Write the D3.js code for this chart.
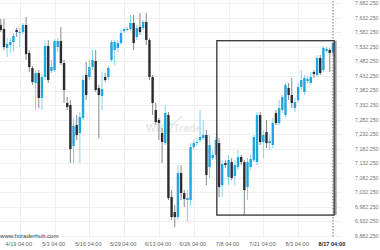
<!DOCTYPE html>
<html><head><meta charset="utf-8">
<script src="https://cdn.jsdelivr.net/npm/d3@7"></script>
<style>html,body{margin:0;padding:0;background:#fff;}svg{display:block;font-family:"Liberation Sans",Arial,sans-serif;}</style>
</head><body><svg id="c" width="380" height="250"></svg>
<script>
const opens=[7607.6,7593.9,7528.5,7538.9,7549.2,7590.4,7580.1,7583.6,7607.6,7511.4,7459.8,7408.2,7442.6,7356.6,7428.8,7535.4,7449.4,7452.9,7532.0,7552.6,7477.0,7339.4,7332.5,7191.5,7263.8,7236.2,7287.8,7435.7,7428.8,7463.2,7483.8,7391.0,7363.5,7428.8,7428.8,7487.3,7521.7,7528.5,7545.7,7587.0,7590.4,7593.9,7614.5,7566.4,7600.7,7597.3,7617.9,7556.0,7428.8,7315.3,7280.9,7236.2,7201.8,7298.1,7016.2,6964.5,6947.4,7098.7,7029.9,7005.8,7005.8,7188.1,7201.8,7212.2,7219.0,7229.4,7119.3,7150.3,7160.6,7201.8,7057.4,7133.1,7084.9,7136.5,7088.4,7119.3,7153.7,7136.5,7050.5,7119.3,7143.4,7136.5,7298.1,7205.3,7239.7,7201.8,7195.0,7305.0,7270.6,7315.3,7298.1,7391.0,7366.9,7322.2,7349.7,7394.4,7377.2,7415.1,7408.2,7446.0,7435.7,7494.1,7452.9,7518.2,7521.7,7514.8];
const highs=[7628.3,7628.3,7562.9,7562.9,7580.1,7597.3,7597.3,7614.5,7635.1,7521.7,7466.6,7452.9,7452.9,7439.1,7556.0,7556.0,7487.3,7559.5,7562.9,7600.7,7487.3,7360.0,7349.7,7287.8,7298.1,7308.5,7435.7,7480.4,7487.3,7521.7,7521.7,7401.3,7446.0,7442.6,7466.6,7556.0,7556.0,7556.0,7590.4,7597.3,7600.7,7642.0,7642.0,7607.6,7648.9,7624.8,7648.9,7562.9,7435.7,7339.4,7287.8,7253.4,7332.5,7308.5,7040.2,6988.6,7126.2,7126.2,7040.2,7040.2,7201.8,7212.2,7219.0,7315.3,7280.9,7246.5,7229.4,7177.8,7222.5,7219.0,7143.4,7143.4,7160.6,7150.3,7143.4,7177.8,7160.6,7143.4,7150.3,7160.6,7229.4,7308.5,7308.5,7246.5,7280.9,7229.4,7287.8,7315.3,7349.7,7366.9,7408.2,7408.2,7425.4,7356.6,7408.2,7452.9,7435.7,7432.3,7446.0,7452.9,7504.5,7504.5,7535.4,7532.0,7528.5,7549.2];
const lows=[7583.6,7521.7,7497.6,7511.4,7514.8,7566.4,7532.0,7576.7,7487.3,7446.0,7401.3,7315.3,7322.2,7315.3,7418.5,7408.2,7442.6,7446.0,7514.8,7470.1,7339.4,7315.3,7133.1,7133.1,7212.2,7133.1,7280.9,7349.7,7418.5,7452.9,7377.2,7219.0,7315.3,7411.6,7418.5,7480.4,7470.1,7514.8,7538.9,7580.1,7587.0,7587.0,7521.7,7556.0,7573.2,7590.4,7538.9,7418.5,7298.1,7263.8,7212.2,7133.1,7195.0,7005.8,6937.1,6913.0,6937.1,7005.8,6981.7,6930.2,6988.6,7177.8,7191.5,7205.3,7212.2,7057.4,7081.5,7143.4,7143.4,7016.2,7016.2,7115.9,7057.4,7074.6,7057.4,7109.0,7126.2,6954.2,7005.8,7109.0,7136.5,7126.2,7195.0,7150.3,7184.7,7177.8,7184.7,7263.8,7263.8,7305.0,7291.3,7349.7,7322.2,7308.5,7339.4,7384.1,7366.9,7404.8,7401.3,7425.4,7428.8,7435.7,7446.0,7511.4,7446.0,7504.5];
const closes=[7590.4,7532.0,7542.3,7549.2,7569.8,7583.6,7583.6,7607.6,7507.9,7463.2,7411.6,7442.6,7356.6,7428.8,7535.4,7418.5,7463.2,7552.6,7552.6,7477.0,7384.1,7325.6,7181.2,7260.3,7229.4,7291.3,7418.5,7366.9,7463.2,7487.3,7384.1,7366.9,7387.5,7418.5,7459.8,7549.2,7549.2,7545.7,7580.1,7593.9,7593.9,7614.5,7545.7,7597.3,7583.6,7617.9,7556.0,7428.8,7339.4,7274.1,7270.6,7205.3,7305.0,7012.7,6947.4,6947.4,7098.7,7029.9,7009.3,7012.7,7188.1,7201.8,7205.3,7222.5,7229.4,7091.8,7195.0,7160.6,7212.2,7050.5,7129.6,7126.2,7143.4,7081.5,7126.2,7153.7,7136.5,7040.2,7136.5,7146.8,7222.5,7298.1,7205.3,7229.4,7201.8,7208.7,7270.6,7270.6,7322.2,7360.0,7401.3,7366.9,7339.4,7342.8,7394.4,7418.5,7425.4,7422.0,7428.8,7439.1,7494.1,7442.6,7528.5,7525.1,7511.4,7545.7];
const xTickLabels=["4/19 04:00","5/3 04:00","5/16 04:00","5/29 04:00","6/13 04:00","6/26 04:00","7/8 04:00","7/21 04:00","8/3 04:00","8/17 04:00"];
const xTickIndex=[6,17,28,39,50,61,72,83,94,105];
const yTicks=[6882.25,6932.25,6982.25,7032.25,7082.25,7132.25,7182.25,7232.25,7282.25,7332.25,7382.25,7432.25,7482.25,7532.25,7582.25,7632.25,7682.25];
const rectStart=68.3, rectEnd=105.4, rectHigh=7553.6, rectLow=6954.2;

const svg=d3.select("#c");
const x=d3.scaleLinear().domain([0,105]).range([0.8,332.9]);
const y=d3.scaleLinear().domain([6882.25,7682.25]).range([236,3.3]);
const fmt=d3.format(",.3f");

// grid
svg.append("g").selectAll("line").data(yTicks).join("line")
  .attr("x1",0).attr("x2",342).attr("y1",d=>Math.round(y(d))+0.5).attr("y2",d=>Math.round(y(d))+0.5)
  .attr("stroke","#f0f0f0").attr("stroke-width",1);
svg.append("g").selectAll("line").data(xTickIndex).join("line")
  .attr("x1",d=>Math.round(x(d))+0.5).attr("x2",d=>Math.round(x(d))+0.5).attr("y1",0).attr("y2",238)
  .attr("stroke","#f0f0f0").attr("stroke-width",1);

// watermark
const wm=svg.append("g").attr("opacity",0.9);
wm.append("text").attr("x",146).attr("y",132).attr("font-size",10.5).attr("font-weight","bold")
  .attr("fill","#e6e6e6").text("Wiki2Trade");
wm.append("polyline").attr("points","160,128 167,121 172,125 182,116").attr("fill","none")
  .attr("stroke","#cfe9f5").attr("stroke-width",1.3);

// candles
const idx=d3.range(opens.length);
const up=i=>closes[i]>=opens[i];
const g=svg.append("g");
g.selectAll("line.w").data(idx).join("line").attr("class","w")
  .attr("x1",i=>x(i)).attr("x2",i=>x(i)).attr("y1",i=>y(highs[i])).attr("y2",i=>y(lows[i]))
  .attr("stroke",i=>up(i)?"#7cccef":"#7a7a7a").attr("stroke-width",0.9);
g.selectAll("rect.b").data(idx).join("rect").attr("class","b")
  .attr("x",i=>x(i)-1.2).attr("width",2.4)
  .attr("y",i=>y(Math.max(opens[i],closes[i])))
  .attr("height",i=>Math.max(1,Math.abs(y(opens[i])-y(closes[i]))))
  .attr("fill",i=>up(i)?"#1fa6e0":"#2b2b33");

// pattern rectangle
svg.append("line").attr("x1",x(105)).attr("x2",x(105)).attr("y1",1).attr("y2",238)
  .attr("stroke","#666").attr("stroke-width",0.8).attr("stroke-dasharray","1.5,1.5");
svg.append("line").attr("x1",x(rectEnd)+1.5).attr("x2",x(rectEnd)+1.5).attr("y1",y(rectHigh)).attr("y2",y(rectLow))
  .attr("stroke","#999").attr("stroke-width",2);
svg.append("rect").attr("x",x(rectStart)).attr("y",y(rectHigh))
  .attr("width",x(rectEnd)-x(rectStart)).attr("height",y(rectLow)-y(rectHigh))
  .attr("fill","none").attr("stroke","#333").attr("stroke-width",1.3);

// y labels
svg.append("g").selectAll("text").data(yTicks).join("text")
  .attr("x",355).attr("y",d=>y(d)).attr("dy","0.35em").attr("font-size",5.3).attr("fill","#777")
  .text(d=>fmt(d));
// x labels
svg.append("g").selectAll("text").data(xTickIndex).join("text")
  .attr("x",d=>x(d)-1).attr("y",245.5).attr("text-anchor","middle").attr("font-size",5.6)
  .attr("fill",(d,i)=>i===xTickIndex.length-1?"#222":"#666")
  .attr("font-weight",(d,i)=>i===xTickIndex.length-1?"bold":"normal")
  .text((d,i)=>xTickLabels[i]);
svg.append("text").attr("x",0).attr("y",237.5).attr("font-size",6.1).attr("fill","#444").text("www.fxtraderhub.com");
</script></body></html>
